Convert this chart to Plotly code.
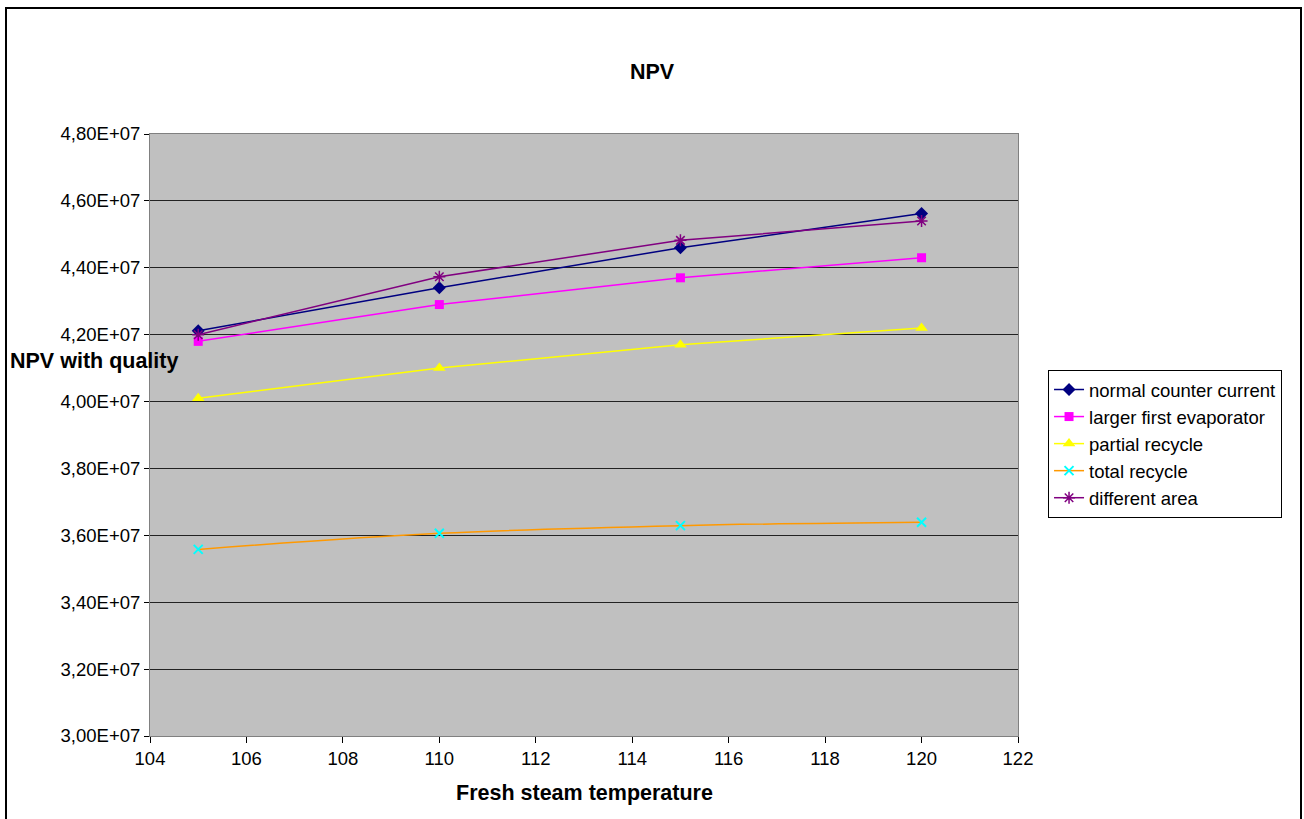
import plotly.graph_objects as go

temperature = [105, 110, 115, 120]
normal_counter_current = [4.212e7, 4.34e7, 4.46e7, 4.562e7]
larger_first_evaporator = [4.18e7, 4.29e7, 4.37e7, 4.43e7]
partial_recycle = [4.01e7, 4.10e7, 4.17e7, 4.22e7]
total_recycle = [3.558e7, 3.606e7, 3.629e7, 3.639e7]
different_area = [4.20e7, 4.373e7, 4.482e7, 4.54e7]

y_tick_vals = [3.0e7, 3.2e7, 3.4e7, 3.6e7, 3.8e7, 4.0e7, 4.2e7, 4.4e7, 4.6e7, 4.8e7]
y_tick_text = ["3,00E+07", "3,20E+07", "3,40E+07", "3,60E+07", "3,80E+07",
               "4,00E+07", "4,20E+07", "4,40E+07", "4,60E+07", "4,80E+07"]

FONT = "Liberation Sans, Arial, sans-serif"
FS = 18.5
TFS = 21.5

fig = go.Figure()
fig.add_trace(go.Scatter(x=temperature, y=normal_counter_current, name="normal counter current",
                         mode="lines+markers", line=dict(color="#000080", width=1.5),
                         marker=dict(symbol="diamond", size=10, color="#000080")))
fig.add_trace(go.Scatter(x=temperature, y=larger_first_evaporator, name="larger first evaporator",
                         mode="lines+markers", line=dict(color="#FF00FF", width=1.5),
                         marker=dict(symbol="square", size=9, color="#FF00FF")))
fig.add_trace(go.Scatter(x=temperature, y=partial_recycle, name="partial recycle",
                         mode="lines+markers", line=dict(color="#FFFF00", width=1.5),
                         marker=dict(symbol="triangle-up", size=11, color="#FFFF00")))
fig.add_trace(go.Scatter(x=temperature, y=total_recycle, name="total recycle",
                         mode="lines+markers", line=dict(color="#FF9900", width=1.5, shape="spline"),
                         marker=dict(symbol="x-thin-open", size=9, color="#00FFFF",
                                     line=dict(color="#00FFFF", width=2))))
fig.add_trace(go.Scatter(x=temperature, y=different_area, name="different area",
                         mode="lines+markers", line=dict(color="#800080", width=1.5),
                         marker=dict(symbol="asterisk-open", size=10, color="#800080",
                                     line=dict(color="#800080", width=1.5))))

fig.update_layout(
    width=1304, height=819,
    margin=dict(l=150, r=286, t=134, b=83),
    paper_bgcolor="white",
    plot_bgcolor="#C0C0C0",
    font=dict(family=FONT, size=FS, color="black"),
    showlegend=True,
    legend=dict(x=1.0346, y=0.608, xanchor="left", yanchor="top",
                bordercolor="black", borderwidth=1, bgcolor="white",
                font=dict(family=FONT, size=FS, color="black"),
                tracegroupgap=0, itemwidth=30),
    xaxis=dict(range=[104, 122], dtick=2, tick0=104, showgrid=False, zeroline=False,
               showline=True, linecolor="#808080", linewidth=1, mirror=True,
               ticks="outside", ticklen=6, tickcolor="black",
               tickfont=dict(family=FONT, size=FS, color="black")),
    yaxis=dict(range=[3.0e7, 4.8e7], tickvals=y_tick_vals, ticktext=y_tick_text,
               showgrid=True, gridcolor="#222222", gridwidth=1, zeroline=False,
               showline=True, linecolor="#808080", linewidth=1, mirror=True,
               ticks="outside", ticklen=5, tickcolor="black",
               tickfont=dict(family=FONT, size=FS, color="black")),
    title=dict(text="<b>NPV</b>", xref="container", x=652 / 1304, xanchor="center",
               y=1 - 71 / 819, yref="container", yanchor="middle",
               font=dict(family=FONT, size=TFS, color="black")),
)

fig.add_annotation(text="<b>Fresh steam temperature</b>", xref="paper", yref="paper",
                   x=0.5, y=(736 - 793) / 602, xanchor="center", yanchor="middle",
                   showarrow=False, font=dict(family=FONT, size=TFS, color="black"))
fig.add_annotation(text="<b>NPV with quality</b>", xref="paper", yref="paper",
                   x=(180 - 150) / 868, y=(736 - 361) / 602, xanchor="right", yanchor="middle",
                   showarrow=False, font=dict(family=FONT, size=TFS, color="black"))

# outer chart border
fig.add_shape(type="rect", xref="paper", yref="paper",
              x0=(6 - 150) / 868, x1=(1301 - 150) / 868,
              y0=(736 - 830) / 602, y1=(736 - 8) / 602,
              line=dict(color="black", width=2), fillcolor="rgba(0,0,0,0)", layer="below")

fig.write_html("out.html")
